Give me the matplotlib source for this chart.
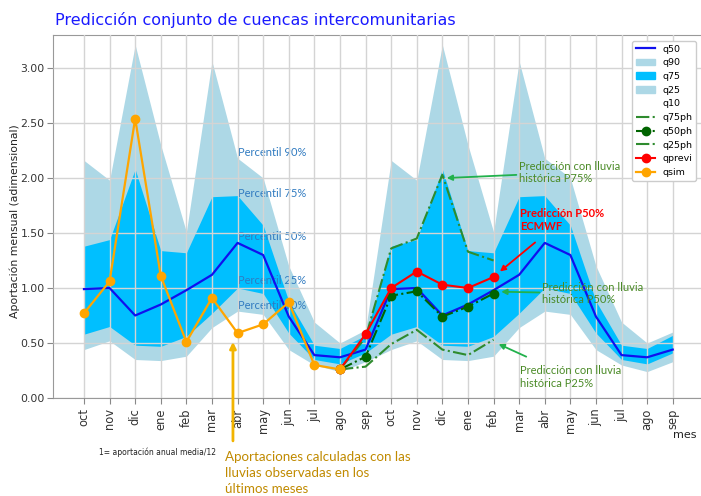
import matplotlib
matplotlib.use('Agg')
import matplotlib.pyplot as plt
import numpy as np
from matplotlib.lines import Line2D
from matplotlib.patches import Patch

months = ['oct', 'nov', 'dic', 'ene', 'feb', 'mar', 'abr', 'may', 'jun', 'jul', 'ago', 'sep',
          'oct', 'nov', 'dic', 'ene', 'feb', 'mar', 'abr', 'may', 'jun', 'jul', 'ago', 'sep']

q90 = [2.16, 1.98, 3.21, 2.30, 1.51, 3.06, 2.18, 2.00, 1.20, 0.69, 0.50, 0.62,
       2.16, 1.98, 3.21, 2.30, 1.51, 3.06, 2.18, 2.00, 1.20, 0.69, 0.50, 0.60]
q75 = [1.38, 1.44, 2.08, 1.34, 1.32, 1.83, 1.84, 1.57, 0.88, 0.48, 0.45, 0.57,
       1.38, 1.44, 2.08, 1.34, 1.32, 1.83, 1.84, 1.57, 0.88, 0.48, 0.45, 0.57]
q50 = [0.99, 1.00, 0.75, 0.85, 0.98, 1.12, 1.41, 1.30, 0.74, 0.39, 0.37, 0.44,
       0.99, 1.00, 0.75, 0.85, 0.98, 1.12, 1.41, 1.30, 0.74, 0.39, 0.37, 0.44]
q25 = [0.58, 0.65, 0.48, 0.47, 0.56, 0.77, 1.00, 0.95, 0.59, 0.35, 0.31, 0.41,
       0.58, 0.65, 0.48, 0.47, 0.56, 0.77, 1.00, 0.95, 0.59, 0.35, 0.31, 0.41]
q10 = [0.44, 0.52, 0.35, 0.34, 0.38, 0.64, 0.79, 0.76, 0.44, 0.30, 0.24, 0.33,
       0.44, 0.52, 0.35, 0.34, 0.38, 0.64, 0.79, 0.76, 0.44, 0.30, 0.24, 0.33]

# simulated (observed rainfall) series: oct .. ago (first year)
qsim = [0.77, 1.06, 2.54, 1.11, 0.51, 0.91, 0.59, 0.67, 0.87, 0.30, 0.26]
# forecasts: ago (first year) .. feb (second year)
qprevi = [0.26, 0.58, 1.00, 1.15, 1.03, 1.00, 1.10]
q75ph = [0.26, 0.55, 1.36, 1.45, 2.03, 1.33, 1.25]
q50ph = [0.26, 0.375, 0.93, 0.97, 0.74, 0.83, 0.95]
q25ph = [0.26, 0.285, 0.49, 0.62, 0.44, 0.39, 0.53]

x = np.arange(len(months))
x_sim = x[:len(qsim)]
x_pred = x[10:10 + len(qprevi)]

fig = plt.figure(figsize=(7.01, 4.96), dpi=100)
ax = fig.add_axes([53 / 701, 98 / 496, 652 / 701, 363 / 496])

ax.fill_between(x, q10, q90, color='lightblue', lw=0, zorder=1)
ax.fill_between(x, q25, q75, color='deepskyblue', lw=0, zorder=1.1)
ax.set_axisbelow(False)
ax.grid(True, color='#d4d4d4', lw=1.0, zorder=1.5)

anno_font = 'Lato'
pc = '#2f7ac0'
for txt, yv in [('Percentil 90%', 2.23), ('Percentil 75%', 1.86), ('Percentil 50%', 1.47),
                ('Percentil 25%', 1.07), ('Percentil 10%', 0.84)]:
    ax.text(6.0, yv, txt, color=pc, fontsize=8, family=anno_font, va='center', ha='left', zorder=2)

ax.plot(x, q50, color='#1010ee', lw=1.6, zorder=3)
ax.plot(x_pred, q75ph, color='#2e8b2e', lw=1.5, ls='-.', zorder=3)
ax.plot(x_pred, q50ph, color='#006400', lw=1.5, ls='-.', marker='o', ms=6, zorder=3)
ax.plot(x_pred, q25ph, color='#2e8b2e', lw=1.5, ls='-.', zorder=3)
ax.plot(x_pred, qprevi, color='red', lw=1.5, marker='o', ms=6, zorder=4)
ax.plot(x_sim, qsim, color='orange', lw=1.6, marker='o', ms=6, zorder=5)

ax.set_xlim(-1.21, 24.26)
ax.set_ylim(0, 3.3)
ax.set_xticks(x)
ax.set_xticklabels(months, rotation=90, fontsize=8.3)
yt = [0, 0.5, 1.0, 1.5, 2.0, 2.5, 3.0]
ax.set_yticks(yt)
ax.set_yticklabels(['%.2f' % v for v in yt], fontsize=7.8)
ax.tick_params(colors='#333333', length=4, color='#888888')
ax.tick_params(axis='y', pad=2)
for s in ax.spines.values():
    s.set_color('#999999')

fig.text(15 / 701, (496 - 221) / 496, 'Aportación mensual (adimensional)', fontsize=7.8,
         color='#222222', rotation=90, ha='center', va='center')
fig.text(697 / 701, (496 - 435) / 496, 'mes', ha='right', va='center', fontsize=8, color='#222222')

fig.text(55 / 701, (496 - 20) / 496, 'Predicción conjunto de cuencas intercomunitarias',
         color='#1a1aff', fontsize=11.5, ha='left', va='center')

handles = [
    Line2D([], [], color='#1010ee', lw=1.6),
    Patch(color='lightblue'),
    Patch(color='deepskyblue'),
    Patch(color='lightblue'),
    Patch(color='white', alpha=0),
    Line2D([], [], color='#2e8b2e', lw=1.5, ls='-.'),
    Line2D([], [], color='#006400', lw=1.5, ls='-.', marker='o', ms=6),
    Line2D([], [], color='#2e8b2e', lw=1.5, ls='-.'),
    Line2D([], [], color='red', lw=1.5, marker='o', ms=6),
    Line2D([], [], color='orange', lw=1.6, marker='o', ms=6),
]
labels = ['q50', 'q90', 'q75', 'q25', 'q10', 'q75ph', 'q50ph', 'q25ph', 'qprevi', 'qsim']
leg = fig.legend(handles, labels, loc='upper right', bbox_to_anchor=(701 / 701, (496 - 36) / 496),
                 fontsize=6.8, framealpha=1, edgecolor='#cccccc', handlelength=2.0)

gtxt = '#4a8a26'
garr = '#22b14c'
ax.annotate('Predicción con lluvia\nhistórica P75%', xy=(14.17, 2.0), xytext=(17.0, 2.05),
            color=gtxt, fontsize=8, family=anno_font, va='center', ha='left',
            arrowprops=dict(arrowstyle='-|>', color=garr, lw=1.3, shrinkA=0, shrinkB=0, mutation_scale=8),
            zorder=6)
ax.annotate('Predicción P50%\nECMWF', xy=(16.25, 1.15), xytext=(17.05, 1.62),
            color='red', fontsize=8, fontweight='bold', family=anno_font, va='center', ha='left',
            arrowprops=dict(arrowstyle='-|>', color='red', lw=1.3, shrinkA=9, shrinkB=0, mutation_scale=8),
            zorder=6)
ax.annotate('Predicción con lluvia\nhistórica P50%', xy=(16.3, 0.966), xytext=(17.9, 0.95),
            color=gtxt, fontsize=8, family=anno_font, va='center', ha='left',
            arrowprops=dict(arrowstyle='-|>', color=garr, lw=1.3, shrinkA=0, shrinkB=0, mutation_scale=8),
            zorder=6)
ax.annotate('Predicción con lluvia\nhistórica P25%', xy=(16.2, 0.49), xytext=(17.05, 0.19),
            color=gtxt, fontsize=8, family=anno_font, va='center', ha='left',
            arrowprops=dict(arrowstyle='-|>', color=garr, lw=1.3, shrinkA=10, shrinkB=0, mutation_scale=8),
            zorder=6)

ax.annotate('', xy=(5.82, 0.51), xytext=(5.82, -0.39),
            arrowprops=dict(arrowstyle='-|>', color='#f2b400', lw=2, shrinkA=0, shrinkB=0, mutation_scale=9),
            annotation_clip=False, zorder=6)
fig.text(225 / 701, (496 - 473) / 496,
         'Aportaciones calculadas con las\nlluvias observadas en los\núltimos meses',
         color='#c08a00', fontsize=9.6, family=anno_font, ha='left', va='center', linespacing=1.4)
fig.text(99 / 701, (496 - 452) / 496, '1= aportación anual media/12', fontsize=5.5,
         ha='left', va='center', color='#222222')

fig.savefig('out.png', dpi=100)
